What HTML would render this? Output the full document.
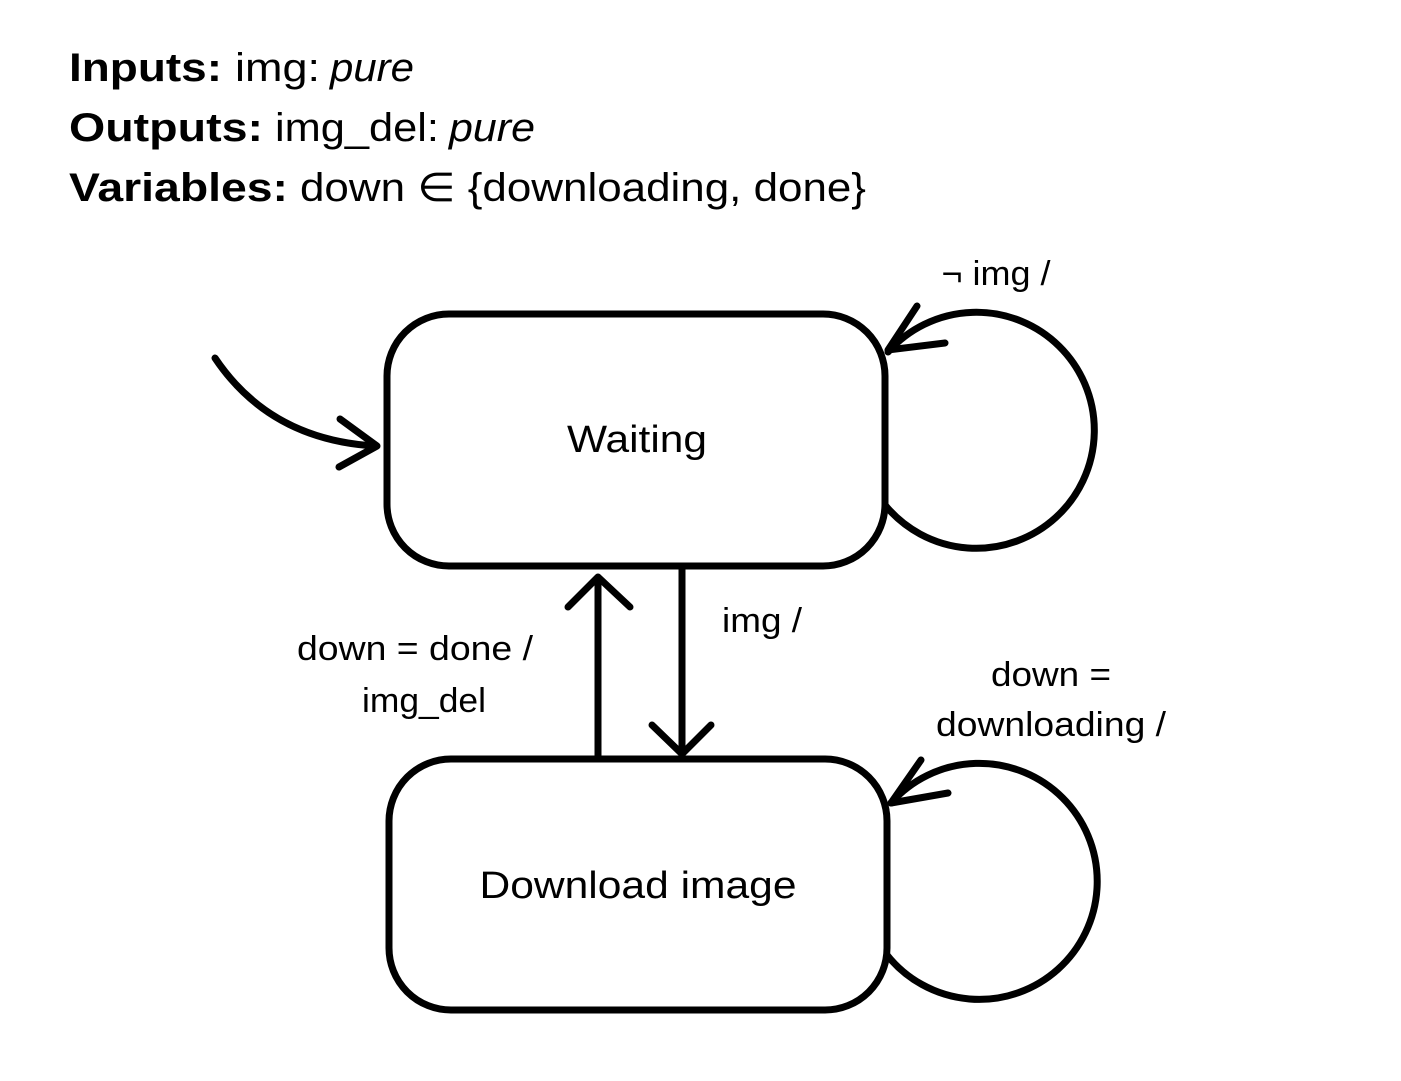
<!DOCTYPE html>
<html><head><style>html,body{margin:0;padding:0;background:#fff}svg{display:block}</style></head>
<body>
<svg width="1401" height="1081" viewBox="0 0 1401 1081" xmlns="http://www.w3.org/2000/svg" font-family="Liberation Sans, sans-serif">
<g font-size="40" fill="#000">
<text x="69" y="81" font-weight="bold" textLength="153" lengthAdjust="spacingAndGlyphs">Inputs:</text>
<text x="235" y="81" textLength="85" lengthAdjust="spacingAndGlyphs">img:</text>
<text x="330" y="81" font-style="italic" textLength="84" lengthAdjust="spacingAndGlyphs">pure</text>
<text x="69" y="141" font-weight="bold" textLength="194" lengthAdjust="spacingAndGlyphs">Outputs:</text>
<text x="275" y="141" textLength="164" lengthAdjust="spacingAndGlyphs">img_del:</text>
<text x="449" y="141" font-style="italic" textLength="86" lengthAdjust="spacingAndGlyphs">pure</text>
<text x="69" y="201" font-weight="bold" textLength="219" lengthAdjust="spacingAndGlyphs">Variables:</text>
<text x="300" y="201" textLength="566" lengthAdjust="spacingAndGlyphs">down ∈ {downloading, done}</text>
</g>
<g fill="none" stroke="#000" stroke-width="7" stroke-linecap="round" stroke-linejoin="round">
<rect x="387" y="314" width="498" height="252" rx="62"/>
<rect x="389" y="759" width="498" height="251" rx="62"/>
<path d="M885 505 A118 118 0 1 0 888 352"/>
<path d="M888 350 L945 343 M888 350 L917 306"/>
<path d="M887 955 A118 118 0 1 0 891 803"/>
<path d="M891 803 L948 793 M891 803 L921 760"/>
<path d="M215 358 Q270 440 376 446"/>
<path d="M377 446 L340 419 M377 446 L339 467"/>
<path d="M598 756 L598 577 M568 607 L598 577 L630 607"/>
<path d="M682 568 L682 754 M652 725 L682 754 L711 725"/>
</g>
<g font-size="34" fill="#000" text-anchor="middle" lengthAdjust="spacingAndGlyphs">
<text x="637" y="452" font-size="38" textLength="140" lengthAdjust="spacingAndGlyphs">Waiting</text>
<text x="638" y="898" font-size="38" textLength="317" lengthAdjust="spacingAndGlyphs">Download image</text>
<text x="762" y="632" textLength="80" lengthAdjust="spacingAndGlyphs">img /</text>
<text x="415" y="660" textLength="236" lengthAdjust="spacingAndGlyphs">down = done /</text>
<text x="424" y="712" textLength="124" lengthAdjust="spacingAndGlyphs">img_del</text>
<text x="1051" y="686" textLength="120" lengthAdjust="spacingAndGlyphs">down =</text>
<text x="1051" y="736" textLength="230" lengthAdjust="spacingAndGlyphs">downloading /</text>
<text x="996" y="285" textLength="109" lengthAdjust="spacingAndGlyphs">¬ img /</text>
</g>
</svg>
</body></html>
